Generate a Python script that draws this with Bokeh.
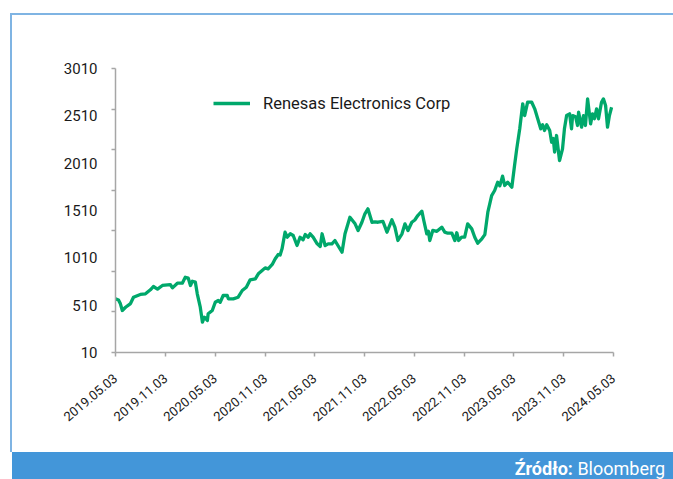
from datetime import datetime
from bokeh.plotting import figure
from bokeh.models import (Range1d, FixedTicker, DatetimeTickFormatter, Legend, LegendItem, Div)
from bokeh.layouts import row, column
from bokeh.embed import file_html
from bokeh.resources import INLINE

# ---------------- data ----------------
dates = [
    "2019-05-03", "2019-05-14", "2019-05-21", "2019-05-28", "2019-06-09", "2019-06-27",
    "2019-07-08", "2019-08-02", "2019-08-21", "2019-09-08", "2019-09-19", "2019-10-04",
    "2019-10-22", "2019-11-20", "2019-11-28", "2019-12-16", "2020-01-03", "2020-01-14",
    "2020-01-25", "2020-02-02", "2020-02-09", "2020-02-20", "2020-02-27", "2020-03-09",
    "2020-03-17", "2020-03-24", "2020-04-04", "2020-04-07", "2020-04-22", "2020-05-03",
    "2020-05-14", "2020-05-21", "2020-06-01", "2020-06-16", "2020-06-20", "2020-07-08",
    "2020-07-26", "2020-08-10", "2020-08-25", "2020-09-08", "2020-09-27", "2020-10-08",
    "2020-10-22", "2020-11-02", "2020-11-13", "2020-11-28", "2020-12-09", "2020-12-20",
    "2020-12-27", "2021-01-03", "2021-01-14", "2021-01-22", "2021-02-02", "2021-02-13",
    "2021-02-27", "2021-03-10", "2021-03-21", "2021-03-29", "2021-04-09", "2021-04-16",
    "2021-04-27", "2021-05-12", "2021-05-23", "2021-05-30", "2021-06-10", "2021-06-21",
    "2021-07-05", "2021-07-16", "2021-07-27", "2021-08-11", "2021-08-22", "2021-09-09",
    "2021-09-28", "2021-10-09", "2021-10-23", "2021-11-03", "2021-11-14", "2021-11-29",
    "2021-12-10", "2021-12-21", "2022-01-08", "2022-01-23", "2022-02-10", "2022-02-21",
    "2022-03-04", "2022-03-19", "2022-03-30", "2022-04-10", "2022-04-24", "2022-05-05",
    "2022-05-16", "2022-05-31", "2022-06-07", "2022-06-18", "2022-06-24", "2022-06-29",
    "2022-07-10", "2022-07-25", "2022-08-12", "2022-08-23", "2022-09-03", "2022-09-18",
    "2022-09-29", "2022-10-06", "2022-10-13", "2022-10-24", "2022-11-04", "2022-11-15",
    "2022-11-30", "2022-12-11", "2022-12-22", "2023-01-06", "2023-01-17", "2023-01-28",
    "2023-02-11", "2023-02-22", "2023-03-05", "2023-03-13", "2023-03-23", "2023-03-31",
    "2023-04-11", "2023-04-26", "2023-05-06", "2023-05-14", "2023-05-25", "2023-06-05",
    "2023-06-12", "2023-06-23", "2023-07-08", "2023-07-19", "2023-07-30", "2023-08-10",
    "2023-08-17", "2023-08-24", "2023-09-01", "2023-09-12", "2023-09-19", "2023-09-25",
    "2023-09-30", "2023-10-07", "2023-10-18", "2023-10-29", "2023-11-05", "2023-11-13",
    "2023-11-24", "2023-12-01", "2023-12-05", "2023-12-16", "2023-12-23", "2023-12-27",
    "2024-01-07", "2024-01-14", "2024-01-21", "2024-01-29", "2024-02-09", "2024-02-16",
    "2024-02-23", "2024-03-02", "2024-03-09", "2024-03-20", "2024-03-27", "2024-04-04",
    "2024-04-11", "2024-04-18", "2024-04-26",
]
prices = [
    577, 565, 524, 454, 488, 527,
    594, 623, 630, 672, 707, 680,
    718, 728, 693, 742, 742, 805,
    795, 718, 763, 753, 630, 489,
    330, 383, 348, 419, 454, 541,
    559, 540, 612, 612, 577, 577,
    594, 665, 700, 778, 788, 841,
    876, 904, 894, 940, 1000, 1045,
    1040, 1105, 1281, 1228, 1264, 1246,
    1140, 1228, 1200, 1256, 1228, 1264,
    1228, 1158, 1130, 1264, 1140, 1158,
    1158, 1193, 1140, 1070, 1264, 1439,
    1369, 1299, 1386, 1475, 1528, 1386,
    1390, 1386, 1396, 1281, 1412, 1334,
    1193, 1264, 1369, 1299, 1386, 1410,
    1457, 1503, 1404, 1264, 1290, 1193,
    1299, 1290, 1334, 1281, 1270, 1271,
    1193, 1275, 1193, 1228, 1228, 1369,
    1316, 1228, 1165, 1211, 1255, 1492,
    1668, 1721, 1809, 1770, 1873, 1774,
    1809, 1756, 1985, 2161, 2373, 2637,
    2513, 2654, 2654, 2584, 2479, 2373,
    2415, 2355, 2415, 2355, 2231, 2270,
    2126, 2302, 2038, 2161, 2373, 2513,
    2531, 2373, 2513, 2500, 2408, 2548,
    2390, 2513, 2408, 2689, 2425, 2531,
    2479, 2584, 2479, 2654, 2689, 2619,
    2390, 2513, 2601,
]
series_name = "Renesas Electronics Corp"
x_tick_dates = ["2019-05-03", "2019-11-03", "2020-05-03", "2020-11-03", "2021-05-03",
                "2021-11-03", "2022-05-03", "2022-11-03", "2023-05-03", "2023-11-03",
                "2024-05-03"]
y_ticks = [10, 510, 1010, 1510, 2010, 2510, 3010]
y_min, y_max = 10, 3010
source_bold = "Źródło:"
source_text = "Bloomberg"

# ---------------- figure ----------------
def ms(s):
    return datetime.strptime(s, "%Y-%m-%d").timestamp() * 1000.0

xs = [datetime.strptime(d, "%Y-%m-%d") for d in dates]

FONT = "Roboto"
RULE = "#7fb4e3"
BAND = "#4396d9"
p = figure(width=661, height=437, output_backend="svg", toolbar_location=None,
           x_axis_type="datetime",
           x_range=Range1d(datetime(2019, 5, 3), datetime(2024, 5, 3)),
           y_range=Range1d(y_min, y_max),
           min_border_left=103, min_border_right=60, min_border_top=53,
           min_border_bottom=100, margin=0)
p.outline_line_color = None
p.xgrid.visible = False
p.ygrid.visible = False
p.background_fill_color = "white"
p.border_fill_color = "white"

r = p.line(xs, prices, line_color="#00a86b", line_width=3.3, line_join="round")

# y axis
ya = p.yaxis[0]
n_minor = 7
ya.ticker = FixedTicker(ticks=y_ticks,
                        minor_ticks=[y_min + k * (y_max - y_min) / n_minor for k in range(n_minor + 1)])
ya.axis_line_color = "#a6a6a6"
ya.axis_line_width = 1.5
ya.major_tick_out = 0
ya.major_tick_in = 0
ya.minor_tick_out = 4
ya.minor_tick_in = 0
ya.minor_tick_line_color = "#a6a6a6"
ya.minor_tick_line_width = 1.5
ya.major_label_standoff = 14
ya.major_label_text_font = FONT
ya.major_label_text_font_size = "15px"
ya.major_label_text_color = "#1a1a1a"

# x axis
xa = p.xaxis[0]
xa.ticker = FixedTicker(ticks=[ms(d) for d in x_tick_dates], minor_ticks=[])
fmt = "%Y.%m.%d"
xa.formatter = DatetimeTickFormatter(milliseconds=fmt, seconds=fmt, minsec=fmt, minutes=fmt,
                                     hourmin=fmt, hours=fmt, days=fmt, months=fmt, years=fmt)
xa.axis_line_color = "#a6a6a6"
xa.axis_line_width = 1.5
xa.major_tick_out = 4
xa.major_tick_in = 0
xa.major_tick_line_color = "#a6a6a6"
xa.major_tick_line_width = 1.5
xa.minor_tick_line_color = None
xa.major_label_orientation = 0.7
xa.major_label_standoff = 20
xa.major_label_text_font = FONT
xa.major_label_text_font_size = "13px"
xa.major_label_text_color = "#1a1a1a"

# legend
legend = Legend(items=[LegendItem(label=series_name, renderers=[r])],
                location=(98, 239), orientation="horizontal",
                border_line_color=None, background_fill_alpha=0,
                padding=0, margin=0, glyph_width=37, glyph_height=20,
                label_standoff=13, label_text_font=FONT,
                label_text_font_size="16.5px", label_text_color="#1a1a1a")
p.add_layout(legend, "center")

# ---------------- page frame: rules and source band ----------------
vrule = Div(text="", width=2, height=439, margin=0,
            styles={"background-color": RULE})
hrule = Div(text="", width=661, height=2, margin=0,
            styles={"background-color": RULE})
footer = Div(
    text=(f'<div style="display:block; width:661px; height:27px; box-sizing:border-box; '
          f'overflow:hidden; text-align:right; padding-right:8px; line-height:34px; '
          f'font-family:Roboto; font-size:18px; color:white; white-space:nowrap;">'
          f'<b>{source_bold}</b> {source_text}</div>'),
    width=661, height=27, margin=0,
    styles={"background-color": BAND, "overflow": "hidden"})

root = row(vrule, column(hrule, p, footer, spacing=0), spacing=0, margin=(13, 0, 0, 10))

open("out.html", "w").write(file_html(root, INLINE))
